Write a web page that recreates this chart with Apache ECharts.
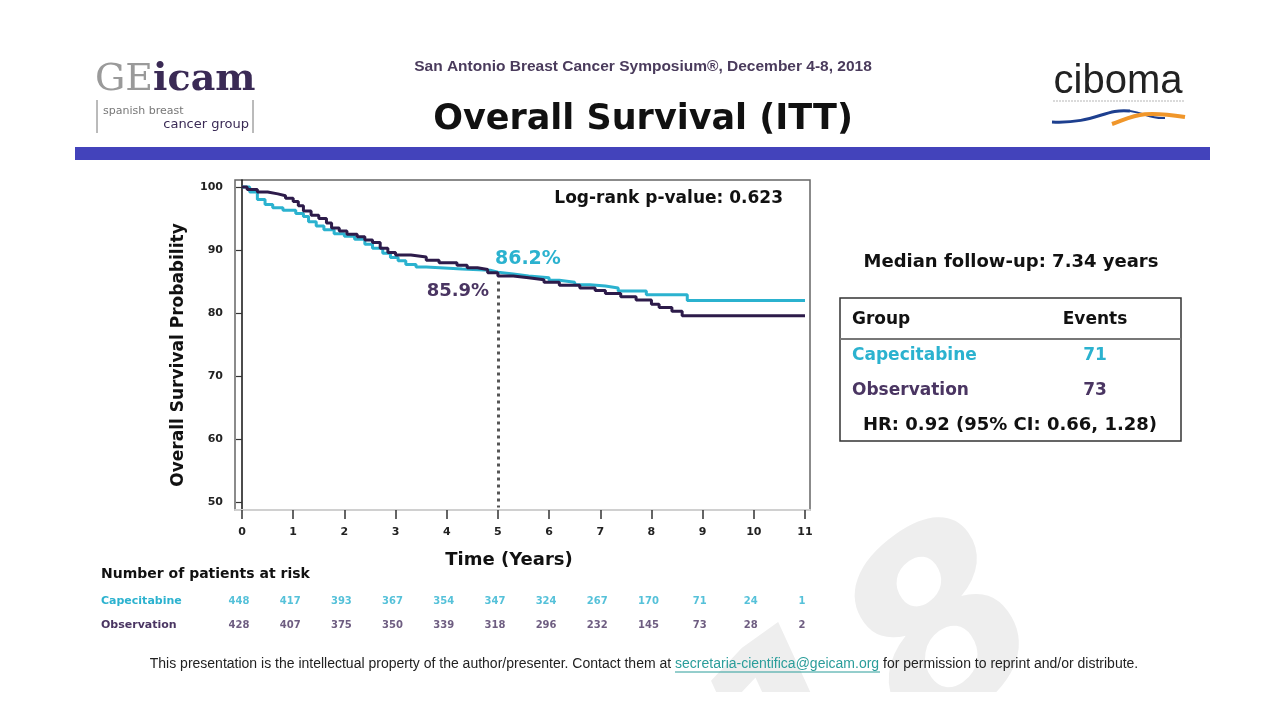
<!DOCTYPE html>
<html><head><meta charset="utf-8">
<script src="https://cdn.jsdelivr.net/npm/echarts@6/dist/echarts.min.js"></script>
<style>html,body{margin:0;padding:0;background:#fff}#c{width:1280px;height:720px}</style>
</head><body><div id="c"></div>
<script>
// ---- data ----
const capeTimes = [0, 0.15, 0.3, 0.45, 0.6, 0.8, 1.05, 1.2, 1.3, 1.45, 1.6, 1.8, 2.0, 2.2, 2.4, 2.55, 2.75, 2.9, 3.05, 3.2, 3.4, 3.6, 4.3, 4.85, 5.0, 5.3, 5.6, 6.0, 6.2, 6.5, 6.8, 7.1, 7.35, 7.9, 8.7, 11.0];
const capeSurv  = [100, 99.2, 98.0, 97.2, 96.7, 96.3, 95.8, 95.3, 94.5, 93.8, 93.2, 92.6, 92.2, 91.7, 90.9, 90.3, 89.5, 88.8, 88.3, 87.7, 87.3, 87.0, 86.8, 86.5, 86.2, 85.9, 85.6, 85.2, 84.9, 84.5, 84.3, 84.0, 83.5, 82.9, 82.0, 82.0];
const obsTimes  = [0, 0.1, 0.3, 0.5, 0.7, 0.85, 1.0, 1.1, 1.2, 1.35, 1.5, 1.65, 1.75, 1.9, 2.05, 2.25, 2.4, 2.55, 2.7, 2.85, 3.0, 3.3, 3.6, 3.85, 4.2, 4.4, 4.6, 4.8, 5.0, 5.3, 5.6, 5.9, 6.2, 6.6, 6.9, 7.1, 7.4, 7.7, 8.0, 8.15, 8.4, 8.6, 11.0];
const obsSurv   = [100, 99.6, 99.2, 98.9, 98.6, 98.2, 97.7, 97.0, 96.2, 95.5, 95.0, 94.3, 93.5, 93.0, 92.5, 92.1, 91.6, 91.2, 90.3, 89.6, 89.2, 88.9, 88.4, 88.0, 87.6, 87.2, 86.9, 86.4, 85.9, 85.6, 85.3, 84.9, 84.4, 84.0, 83.6, 83.1, 82.6, 82.1, 81.4, 80.9, 80.3, 79.6, 79.6];
const riskTimes = [0, 1, 2, 3, 4, 5, 6, 7, 8, 9, 10, 11];
const riskCape  = [448, 417, 393, 367, 354, 347, 324, 267, 170, 71, 24, 1];
const riskObs   = [428, 407, 375, 350, 339, 318, 296, 232, 145, 73, 28, 2];
const xTicks = [0, 1, 2, 3, 4, 5, 6, 7, 8, 9, 10, 11];
const yTicks = [50, 60, 70, 80, 90, 100];
const groups = ['Capecitabine', 'Observation'];
const events = [71, 73];
const landmarkTime = 5;
const landmarkCape = 86.2;
const landmarkObs = 85.9;

// ---- styling ----
const CYAN = '#2bb2cf';
const PURPLE = '#2d1b4a';
const PURPLE_TXT = '#4a3562';
const FONT = 'DejaVu Sans';

const chart = echarts.init(document.getElementById('c'), null, {renderer: 'canvas'});

const capeData = capeTimes.map((t, i) => [t, capeSurv[i]]);
const obsData = obsTimes.map((t, i) => [t, obsSurv[i]]);

function riskSeries(name, counts, color) {
  return {
    type: 'scatter', name: name + ' at risk', xAxisIndex: 1, yAxisIndex: 1,
    symbolSize: 1, itemStyle: {color: 'rgba(0,0,0,0)'}, silent: true,
    data: riskTimes.map((t, i) => [t, name, counts[i]]),
    label: {show: true, position: 'inside', offset: [-3, 0], formatter: p => String(p.value[2]),
      color: color, fontFamily: FONT, fontWeight: 'bold', fontSize: 10}
  };
}

const boldTxt = (size, color) => ({fontFamily: FONT, fontWeight: 'bold', fontSize: size, fill: color});

const option = {
  animation: false,
  backgroundColor: '#fff',
  grid: [
    {left: 235, right: 470, top: 180, bottom: 210, show: true, borderColor: '#666', borderWidth: 1.5, backgroundColor: 'transparent'},
    {left: 235, right: 470, top: 589, height: 48}
  ],
  xAxis: [
    {type: 'value', gridIndex: 0, min: -0.137, max: 11.098,
      splitLine: {show: false},
      axisLine: {show: true, lineStyle: {color: '#d0d0d0', width: 2}},
      axisTick: {show: true, customValues: xTicks, length: 9, lineStyle: {color: '#333', width: 1.5}},
      axisLabel: {customValues: xTicks, margin: 17, fontFamily: FONT, fontWeight: 'bold', fontSize: 11, color: '#222'},
      name: 'Time (Years)', nameLocation: 'middle', nameGap: 41,
      nameTextStyle: {fontFamily: FONT, fontWeight: 'bold', fontSize: 18, color: '#111', padding: [0, 27, 0, 0]}
    },
    {type: 'value', gridIndex: 1, min: -0.137, max: 11.098, show: false}
  ],
  yAxis: [
    {type: 'value', gridIndex: 0, min: 48.8, max: 101.1,
      splitLine: {show: false},
      axisLine: {show: true, lineStyle: {color: '#111', width: 1.5}},
      axisTick: {show: true, customValues: yTicks, length: 6, lineStyle: {color: '#333', width: 1.2}},
      axisLabel: {customValues: yTicks, margin: 12, fontFamily: FONT, fontWeight: 'bold', fontSize: 11, color: '#222'},
      name: 'Overall Survival Probability', nameLocation: 'middle', nameGap: 48, nameRotate: 90,
      nameTextStyle: {fontFamily: FONT, fontWeight: 'bold', fontSize: 17, color: '#111', padding: [0, 20, 0, 0]}
    },
    {type: 'category', gridIndex: 1, data: groups, inverse: true,
      axisLine: {show: false}, axisTick: {show: false}, splitLine: {show: false},
      axisLabel: {margin: 134, align: 'left',
        formatter: (v, i) => '{g' + i + '|' + v + '}',
        rich: {
          g0: {color: CYAN, fontFamily: FONT, fontWeight: 'bold', fontSize: 11},
          g1: {color: PURPLE_TXT, fontFamily: FONT, fontWeight: 'bold', fontSize: 11}
        }}
    }
  ],
  series: [
    {type: 'line', name: groups[0], data: capeData, step: 'end', symbol: 'none',
      lineStyle: {color: CYAN, width: 3}, z: 3,
      markPoint: {symbol: 'circle', symbolSize: 0, silent: true,
        data: [{coord: [landmarkTime, landmarkCape]}],
        label: {show: true, position: 'inside', offset: [30, -15], formatter: () => landmarkCape.toFixed(1) + '%',
          color: CYAN, fontFamily: FONT, fontWeight: 'bold', fontSize: 19}}
    },
    {type: 'line', name: groups[1], data: obsData, step: 'end', symbol: 'none',
      lineStyle: {color: PURPLE, width: 3}, z: 4,
      markPoint: {symbol: 'circle', symbolSize: 0, silent: true,
        data: [{coord: [landmarkTime, landmarkObs]}],
        label: {show: true, position: 'inside', offset: [-40, 15], formatter: () => landmarkObs.toFixed(1) + '%',
          color: PURPLE_TXT, fontFamily: FONT, fontWeight: 'bold', fontSize: 18}},
      markLine: {symbol: ['none', 'none'], silent: true, label: {show: false},
        lineStyle: {color: '#555', width: 3, type: [3, 4]},
        data: [[{coord: [landmarkTime, landmarkObs - 0.9]}, {coord: [landmarkTime, 49.2]}]]}
    },
    riskSeries(groups[0], riskCape, CYAN),
    riskSeries(groups[1], riskObs, PURPLE_TXT)
  ],
  graphic: [
    // watermark
    {type: 'text', z: -10, x: 1022, y: 592, rotation: 0.62,
      style: {text: '2018', fontFamily: FONT, fontWeight: 'bold', fontStyle: 'italic', fontSize: 250,
        fill: '#eeeeee', align: 'right', verticalAlign: 'middle'}},
    {type: 'rect', z: -9, shape: {x: 0, y: 692, width: 1280, height: 28}, style: {fill: '#fff'}},
    // header bar
    {type: 'rect', shape: {x: 75, y: 147, width: 1135, height: 13}, style: {fill: '#4343bb'}},
    {type: 'text', x: 643, y: 67, style: {text: 'San Antonio Breast Cancer Symposium®, December 4-8, 2018',
      fontFamily: 'Liberation Sans', fontWeight: 'bold', fontSize: 15.5, fill: '#4a3b5c', align: 'center', verticalAlign: 'middle'}},
    {type: 'text', x: 643, y: 120, style: {text: 'Overall Survival (ITT)',
      fontFamily: FONT, fontWeight: 'bold', fontSize: 35, fill: '#111', align: 'center', verticalAlign: 'middle'}},
    // GEICAM logo
    {type: 'text', x: 95, y: 80, style: {text: '{a|GE}{b|icam}', verticalAlign: 'middle',
      rich: {a: {fontFamily: 'DejaVu Serif', fontWeight: 'normal', fontSize: 38, fill: '#9a9a9a'},
             b: {fontFamily: 'DejaVu Serif', fontWeight: 'bold', fontSize: 38, fill: '#3a2a55'}}}},
    {type: 'line', shape: {x1: 97, y1: 100, x2: 97, y2: 133}, style: {stroke: '#777', lineWidth: 1}},
    {type: 'line', shape: {x1: 253, y1: 100, x2: 253, y2: 133}, style: {stroke: '#777', lineWidth: 1}},
    {type: 'text', x: 103, y: 111, style: {text: 'spanish breast', fontFamily: FONT, fontSize: 11, fill: '#777', verticalAlign: 'middle'}},
    {type: 'text', x: 249, y: 125, style: {text: 'cancer group', fontFamily: FONT, fontSize: 13, fill: '#3a2a55', align: 'right', verticalAlign: 'middle'}},
    // ciboma logo
    {type: 'text', x: 1118, y: 82, style: {text: 'ciboma', fontFamily: 'Liberation Sans', fontSize: 40, fill: '#222', align: 'center', verticalAlign: 'middle'}},
    {type: 'line', shape: {x1: 1053, y1: 101, x2: 1185, y2: 101}, style: {stroke: '#b5b5b5', lineWidth: 1, lineDash: [2, 1]}},
    {type: 'bezierCurve', shape: {x1: 1052, y1: 122, x2: 1130, y2: 111, cpx1: 1095, cpy1: 124, cpx2: 1105, cpy2: 108},
      style: {stroke: '#1d3f8f', lineWidth: 3, fill: null}},
    {type: 'bezierCurve', shape: {x1: 1130, y1: 111, x2: 1165, y2: 118, cpx1: 1145, cpy1: 113, cpx2: 1150, cpy2: 119},
      style: {stroke: '#1d3f8f', lineWidth: 2, fill: null}},
    {type: 'bezierCurve', shape: {x1: 1112, y1: 124, x2: 1185, y2: 117, cpx1: 1135, cpy1: 116, cpx2: 1140, cpy2: 110},
      style: {stroke: '#f0962a', lineWidth: 4, fill: null}},
    // plot annotations
    {type: 'text', x: 783, y: 199, style: Object.assign({text: 'Log-rank p-value: 0.623', align: 'right', verticalAlign: 'middle'}, boldTxt(17, '#111'))},
    {type: 'text', x: 1011, y: 262, style: Object.assign({text: 'Median follow-up: 7.34 years', align: 'center', verticalAlign: 'middle'}, boldTxt(18, '#111'))},
    // events table
    {type: 'rect', shape: {x: 840, y: 298, width: 341, height: 143}, style: {fill: 'none', stroke: '#333', lineWidth: 1.5}},
    {type: 'line', shape: {x1: 840, y1: 339, x2: 1181, y2: 339}, style: {stroke: '#777', lineWidth: 2}},
    {type: 'text', x: 852, y: 320, style: Object.assign({text: 'Group', verticalAlign: 'middle'}, boldTxt(17, '#111'))},
    {type: 'text', x: 1095, y: 320, style: Object.assign({text: 'Events', align: 'center', verticalAlign: 'middle'}, boldTxt(17, '#111'))},
    {type: 'text', x: 852, y: 356, style: Object.assign({text: groups[0], verticalAlign: 'middle'}, boldTxt(17, CYAN))},
    {type: 'text', x: 1095, y: 356, style: Object.assign({text: String(events[0]), align: 'center', verticalAlign: 'middle'}, boldTxt(17, CYAN))},
    {type: 'text', x: 852, y: 391, style: Object.assign({text: groups[1], verticalAlign: 'middle'}, boldTxt(17, PURPLE_TXT))},
    {type: 'text', x: 1095, y: 391, style: Object.assign({text: String(events[1]), align: 'center', verticalAlign: 'middle'}, boldTxt(17, PURPLE_TXT))},
    {type: 'text', x: 1010, y: 425, style: Object.assign({text: 'HR: 0.92 (95% CI: 0.66, 1.28)', align: 'center', verticalAlign: 'middle'}, boldTxt(18, '#111'))},
    // at-risk title
    {type: 'text', x: 101, y: 574, style: Object.assign({text: 'Number of patients at risk', verticalAlign: 'middle'}, boldTxt(14, '#111'))},
    // footer
    {type: 'text', x: 644, y: 664, style: {
      text: 'This presentation is the intellectual property of the author/presenter. Contact them at {l|secretaria-cientifica@geicam.org} for permission to reprint and/or distribute.',
      fontFamily: 'Liberation Sans', fontSize: 14, fill: '#222', align: 'center', verticalAlign: 'middle',
      rich: {l: {fontFamily: 'Liberation Sans', fontSize: 14, fill: '#2a9d9a'}}}},
    {type: 'line', shape: {x1: 675, y1: 672, x2: 880, y2: 672}, style: {stroke: '#2a9d9a', lineWidth: 1}}
  ]
};
chart.setOption(option);
</script>
</body></html>
